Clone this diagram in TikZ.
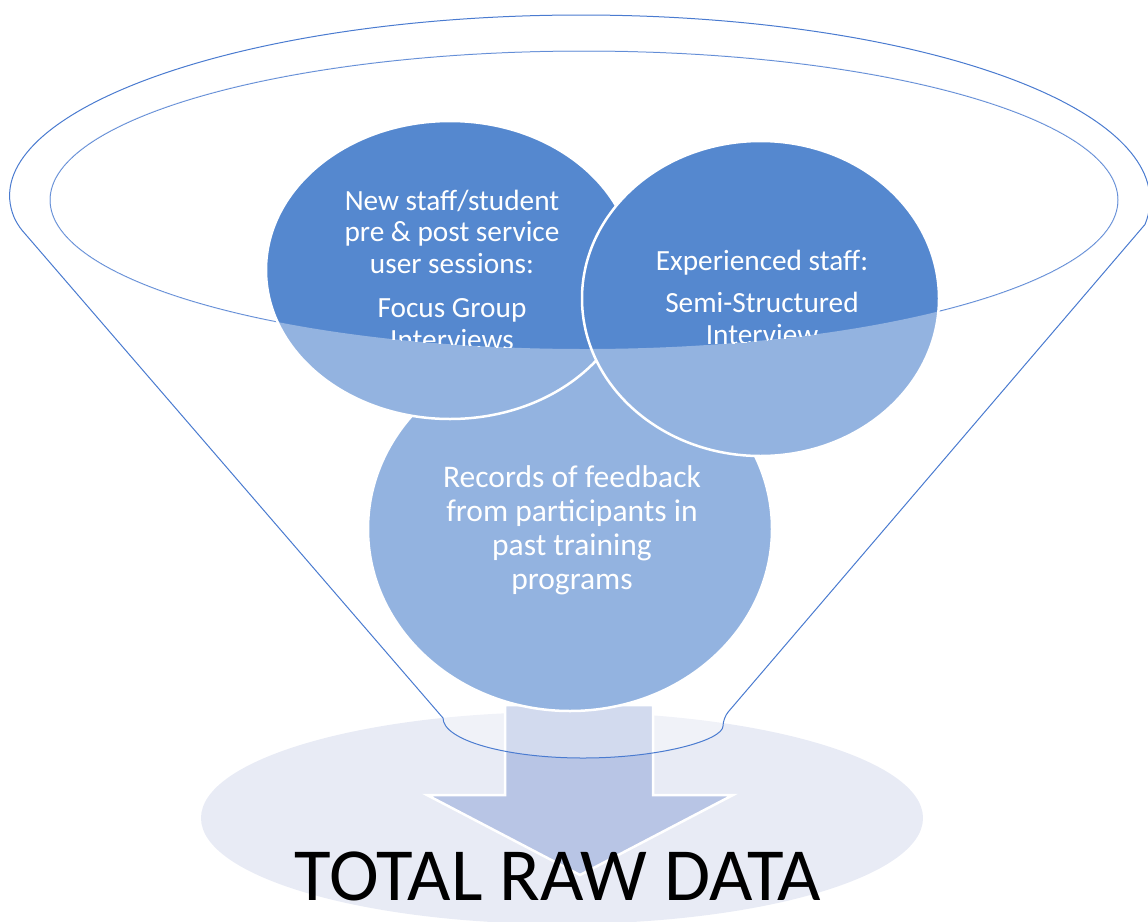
\documentclass[tikz,border=0pt]{standalone}
\usepackage{fontspec}
\setmainfont{Carlito}
\definecolor{darkc}{HTML}{5588CF}
\definecolor{arrowc}{HTML}{B8C5E5}
\definecolor{basec}{HTML}{E8EBF5}
\definecolor{linec}{HTML}{4A7BD0}
\tikzset{
  circ/.style={fill=darkc, draw=white, line width=2.5pt},
  funline/.style={draw=linec, line width=1pt},
  ctext/.style={text=white, anchor=base, inner sep=0pt, font=\fontsize{29.3}{31}\selectfont},
  btext/.style={text=white, anchor=base, inner sep=0pt, font=\fontsize{31.5}{33}\selectfont}
}
\begin{document}
\begin{tikzpicture}[x=1pt,y=-1pt]
\useasboundingbox (0,0) rectangle (1148,921);
% base ellipse
\fill[basec] (562,818) ellipse [x radius=361, y radius=106];
% arrow
\node[coordinate] (tip) at (580,875) {};
\filldraw[fill=arrowc, draw=white, line width=2.5pt, line join=miter]
  (505,705) -- (653,705) -- (653,795) -- (733,795) -- (tip) -- (427,795) -- (505,795) -- cycle;
% inner ellipse outline
\draw[funline] (584,200) ellipse [x radius=534, y radius=149];
% circles
\path[circ] (570,529) ellipse [x radius=202, y radius=182];
\path[circ] (450,270) ellipse [x radius=184, y radius=149];
\path[circ] (760.5,298.5) ellipse [x radius=178.5, y radius=157.5];
% texts of top circles, clipped to inner ellipse
\begin{scope}
\clip (584,200) ellipse [x radius=534, y radius=149];
\node[ctext] (a1) at (452,210) {New staff/student};
\node[ctext] (a2) at (452,241) {pre \& post service};
\node[ctext] (a3) at (452,273) {user sessions:};
\node[ctext] (a4) at (452,317) {Focus Group};
\node[ctext] (a5) at (452,349) {Interviews};
\node[ctext] (b1) at (762,270) {Experienced staff:};
\node[ctext] (b2) at (762,312) {Semi-Structured};
\node[ctext] (b3) at (762,344) {Interview};
\end{scope}
% funnel body overlay
\fill[white, opacity=0.37, even odd rule]
  (581,200) ++(172.4:569 and 185) arc [start angle=172.4, end angle=367.6, x radius=569, y radius=185]
  [rounded corners=8pt] -- (723,718) [sharp corners] arc [start angle=0, end angle=180, x radius=140, y radius=40]
  [rounded corners=8pt] -- cycle
  (584,200) ellipse [x radius=534, y radius=149];
% funnel outer outline
\draw[funline, line join=round]
  (581,200) ++(172.4:569 and 185) arc [start angle=172.4, end angle=367.6, x radius=569, y radius=185]
  [rounded corners=8pt] -- (723,718) [sharp corners] arc [start angle=0, end angle=180, x radius=140, y radius=40]
  [rounded corners=8pt] -- cycle;
% bottom circle text
\node[btext] (c1) at (572,487) {Records of feedback};
\node[btext] (c2) at (572,521) {from participants in};
\node[btext] (c3) at (572,555) {past training};
\node[btext] (c4) at (572,589) {programs};
% total
\node[anchor=base, inner sep=0pt, font=\fontsize{75}{80}\selectfont] (total) at (558,900) {TOTAL RAW DATA};
\end{tikzpicture}
\end{document}
